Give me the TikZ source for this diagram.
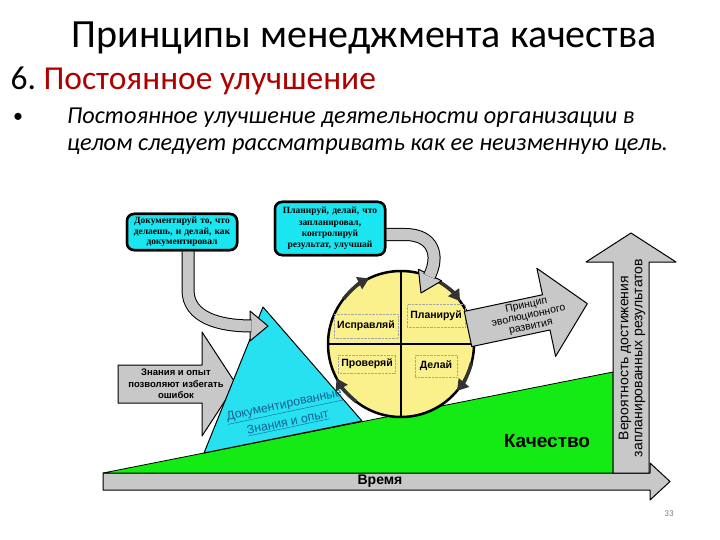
\documentclass[tikz,border=0pt]{standalone}
\usepackage{fontspec}
\setmainfont{Carlito}
\newfontfamily\arialfont{Liberation Sans}
\newfontfamily\boxfont{Liberation Serif}
\usetikzlibrary{arrows.meta,positioning,calc}

\definecolor{boxcyan}{RGB}{25,230,240}
\definecolor{tricyan}{RGB}{40,225,240}
\definecolor{rampgreen}{RGB}{20,235,20}
\definecolor{arrowgray}{RGB}{200,200,200}
\definecolor{cycleyellow}{RGB}{250,240,140}
\definecolor{darkred}{RGB}{175,0,0}
\definecolor{labelblue}{RGB}{20,95,150}

\begin{document}
\begin{tikzpicture}[x=1pt,y=-1pt,
  outline/.style={draw=black,line width=1pt,line join=round},
  note/.style={draw,line width=2.5pt,rounded corners=7pt,fill=boxcyan,align=center,
    font=\boxfont\bfseries\fontsize{9.5}{10.5}\selectfont,inner xsep=3pt,inner ysep=2pt},
  stage/.style={draw=gray!70,densely dotted,thin,font=\arialfont\bfseries\fontsize{10.5}{10.5}\selectfont,inner sep=3pt},
  band/.style={double=arrowgray,double distance=11pt,line width=1pt},
  cyclearrow/.style={line width=3.5pt,draw=black!80,-{Triangle[length=11pt,width=13pt]}}]
  \tikzstyle{sign} = [font=\arialfont\fontsize{10.5}{11}\selectfont,align=center]
  \useasboundingbox (0,0) rectangle (720,540);

  % slide heading
  \node[font=\fontsize{40}{40}\selectfont] (title) at (364,38) {Принципы менеджмента качества};
  \node[anchor=west,font=\fontsize{33.5}{33.5}\selectfont] (subtitle) at (7,81) {6.~\textcolor{darkred}{Постоянное улучшение}};
  \node[font=\fontsize{20}{20}\selectfont] (dot) at (18,118) {•};
  \node[anchor=north west,align=left,inner sep=0pt,font=\fontsize{24.3}{27}\selectfont\itshape] (lead) at (67,108)
    {Постоянное улучшение деятельности организации в\\целом следует рассматривать как ее неизменную цель.};

  % time axis and quality ramp
  \draw[outline,fill=arrowgray] (103,473) -- (650,473) -- (650,463) -- (670,481.5) -- (650,500) -- (650,490) -- (103,490) -- cycle;
  \node[font=\arialfont\bfseries\fontsize{14}{14}\selectfont] (time) at (380,481.5) {Время};
  \draw[fill=rampgreen,line width=0.8pt] (103,473) -- (613,372) -- (613,473) -- cycle;
  \node[font=\arialfont\bfseries\fontsize{19}{19}\selectfont] (quality) at (547,441) {Качество};

  \draw[outline,fill=arrowgray] (613,473) -- (613,262) -- (586,262) -- (631,233) -- (676,262) -- (649,262) -- (649,473) -- cycle;
  \node[rotate=90,font=\arialfont\fontsize{14}{14}\selectfont,align=center] (prob) at (632,358)
    {Вероятность достижения\\запланированных результатов};

  % knowledge
  \draw[outline,fill=arrowgray] (118,365) -- (202,365) -- (202,332) -- (236,384) -- (202,436) -- (202,403) -- (118,403) -- cycle;
  \node[sign,font=\arialfont\bfseries\fontsize{9.5}{11.7}\selectfont] (avoid) at (176,384) {Знания и опыт\\позволяют избегать\\ошибок};

  \coordinate (apex) at (263,307);
  \coordinate (base l) at (204,453);
  \coordinate (base r) at (362,421);
  \draw[fill=tricyan,line width=1pt,line join=round] (apex) -- (base l) -- (base r) -- cycle;
  \node[rotate=12,text=labelblue,font=\arialfont\fontsize{12.3}{18}\selectfont,align=center] (docs) at (286,414)
    {\underline{Документированные}\\\underline{Знания и опыт}};

  % PDCA wheel
  \node[circle,draw,line width=2.5pt,fill=cycleyellow,minimum size=146pt,inner sep=0pt] (cycle) at (401,344) {};
  \draw[line width=1.5pt] (cycle.north) -- (cycle.south) (cycle.west) -- (cycle.east);
  \node[stage,minimum width=62pt,minimum height=24pt] (act) at (366,326) {Исправляй};
  \node[stage,minimum width=53pt,minimum height=23pt] (plan) at (436,316) {Планируй};
  \node[stage,minimum width=52pt,minimum height=18pt] (check) at (367,364) {Проверяй};
  \node[stage,minimum width=42pt,minimum height=22pt] (doit) at (436,366) {Делай};

  \draw[cyclearrow] ([shift={(-62:73)}]cycle.center) arc[start angle=-62,end angle=-36,radius=73];
  \draw[cyclearrow] ([shift={(15:73)}]cycle.center) arc[start angle=15,end angle=40,radius=73];
  \draw[cyclearrow] ([shift={(128:73)}]cycle.center) arc[start angle=128,end angle=152,radius=73];
  \draw[cyclearrow] ([shift={(-142:73)}]cycle.center) arc[start angle=-142,end angle=-116,radius=73];

  \begin{scope}[shift={(468,329)},rotate=12]
    \draw[outline,fill=arrowgray] (0,-18) -- (80,-18) -- (80,-45) -- (122,0) -- (80,45) -- (80,18) -- (0,18) -- cycle;
    \node[sign,rotate=12] (evo) at (62,0) {Принцип\\эволюционного\\развития};
  \end{scope}

  % hints
  \node[note,text width=104pt,minimum height=36pt] (box1) at (182,232)
    {Документируй то, что\\делаешь, и делай, как\\документировал};
  \node[note,text width=104pt,minimum height=53pt,font=\boxfont\bfseries\fontsize{9.5}{11.2}\selectfont] (box2) at (330,228.5)
    {Планируй, делай, что\\запланировал,\\контролируй\\результат, улучшай};

  \coordinate (headL) at (250,326);
  \draw[outline,fill=arrowgray] (250,311) -- (268,326) -- (250,341) -- cycle;
  \draw[band] ([xshift=6pt]box1.south) -- (188,290) .. controls (188,318) and (220,326) .. (251.5,326);

  \coordinate (headR) at (430,275);
  \draw[outline,fill=arrowgray] (441.6,280.8) -- (421,293) -- (418.4,269.2) -- cycle;
  \draw[band] ([yshift=-6pt]box2.east) -- (405,234.5) .. controls (433,234.5) and (440,255) .. (429.3,276.3);
  \node[note,text width=104pt,minimum height=36pt] at (box1) {Документируй то, что\\делаешь, и делай, как\\документировал};
  \node[note,text width=104pt,minimum height=53pt,font=\boxfont\bfseries\fontsize{9.5}{11.2}\selectfont] at (box2)
    {Планируй, делай, что\\запланировал,\\контролируй\\результат, улучшай};

  \node[text=gray,font=\fontsize{9}{9}\selectfont] (page) at (669,514) {33};
\end{tikzpicture}
\end{document}
